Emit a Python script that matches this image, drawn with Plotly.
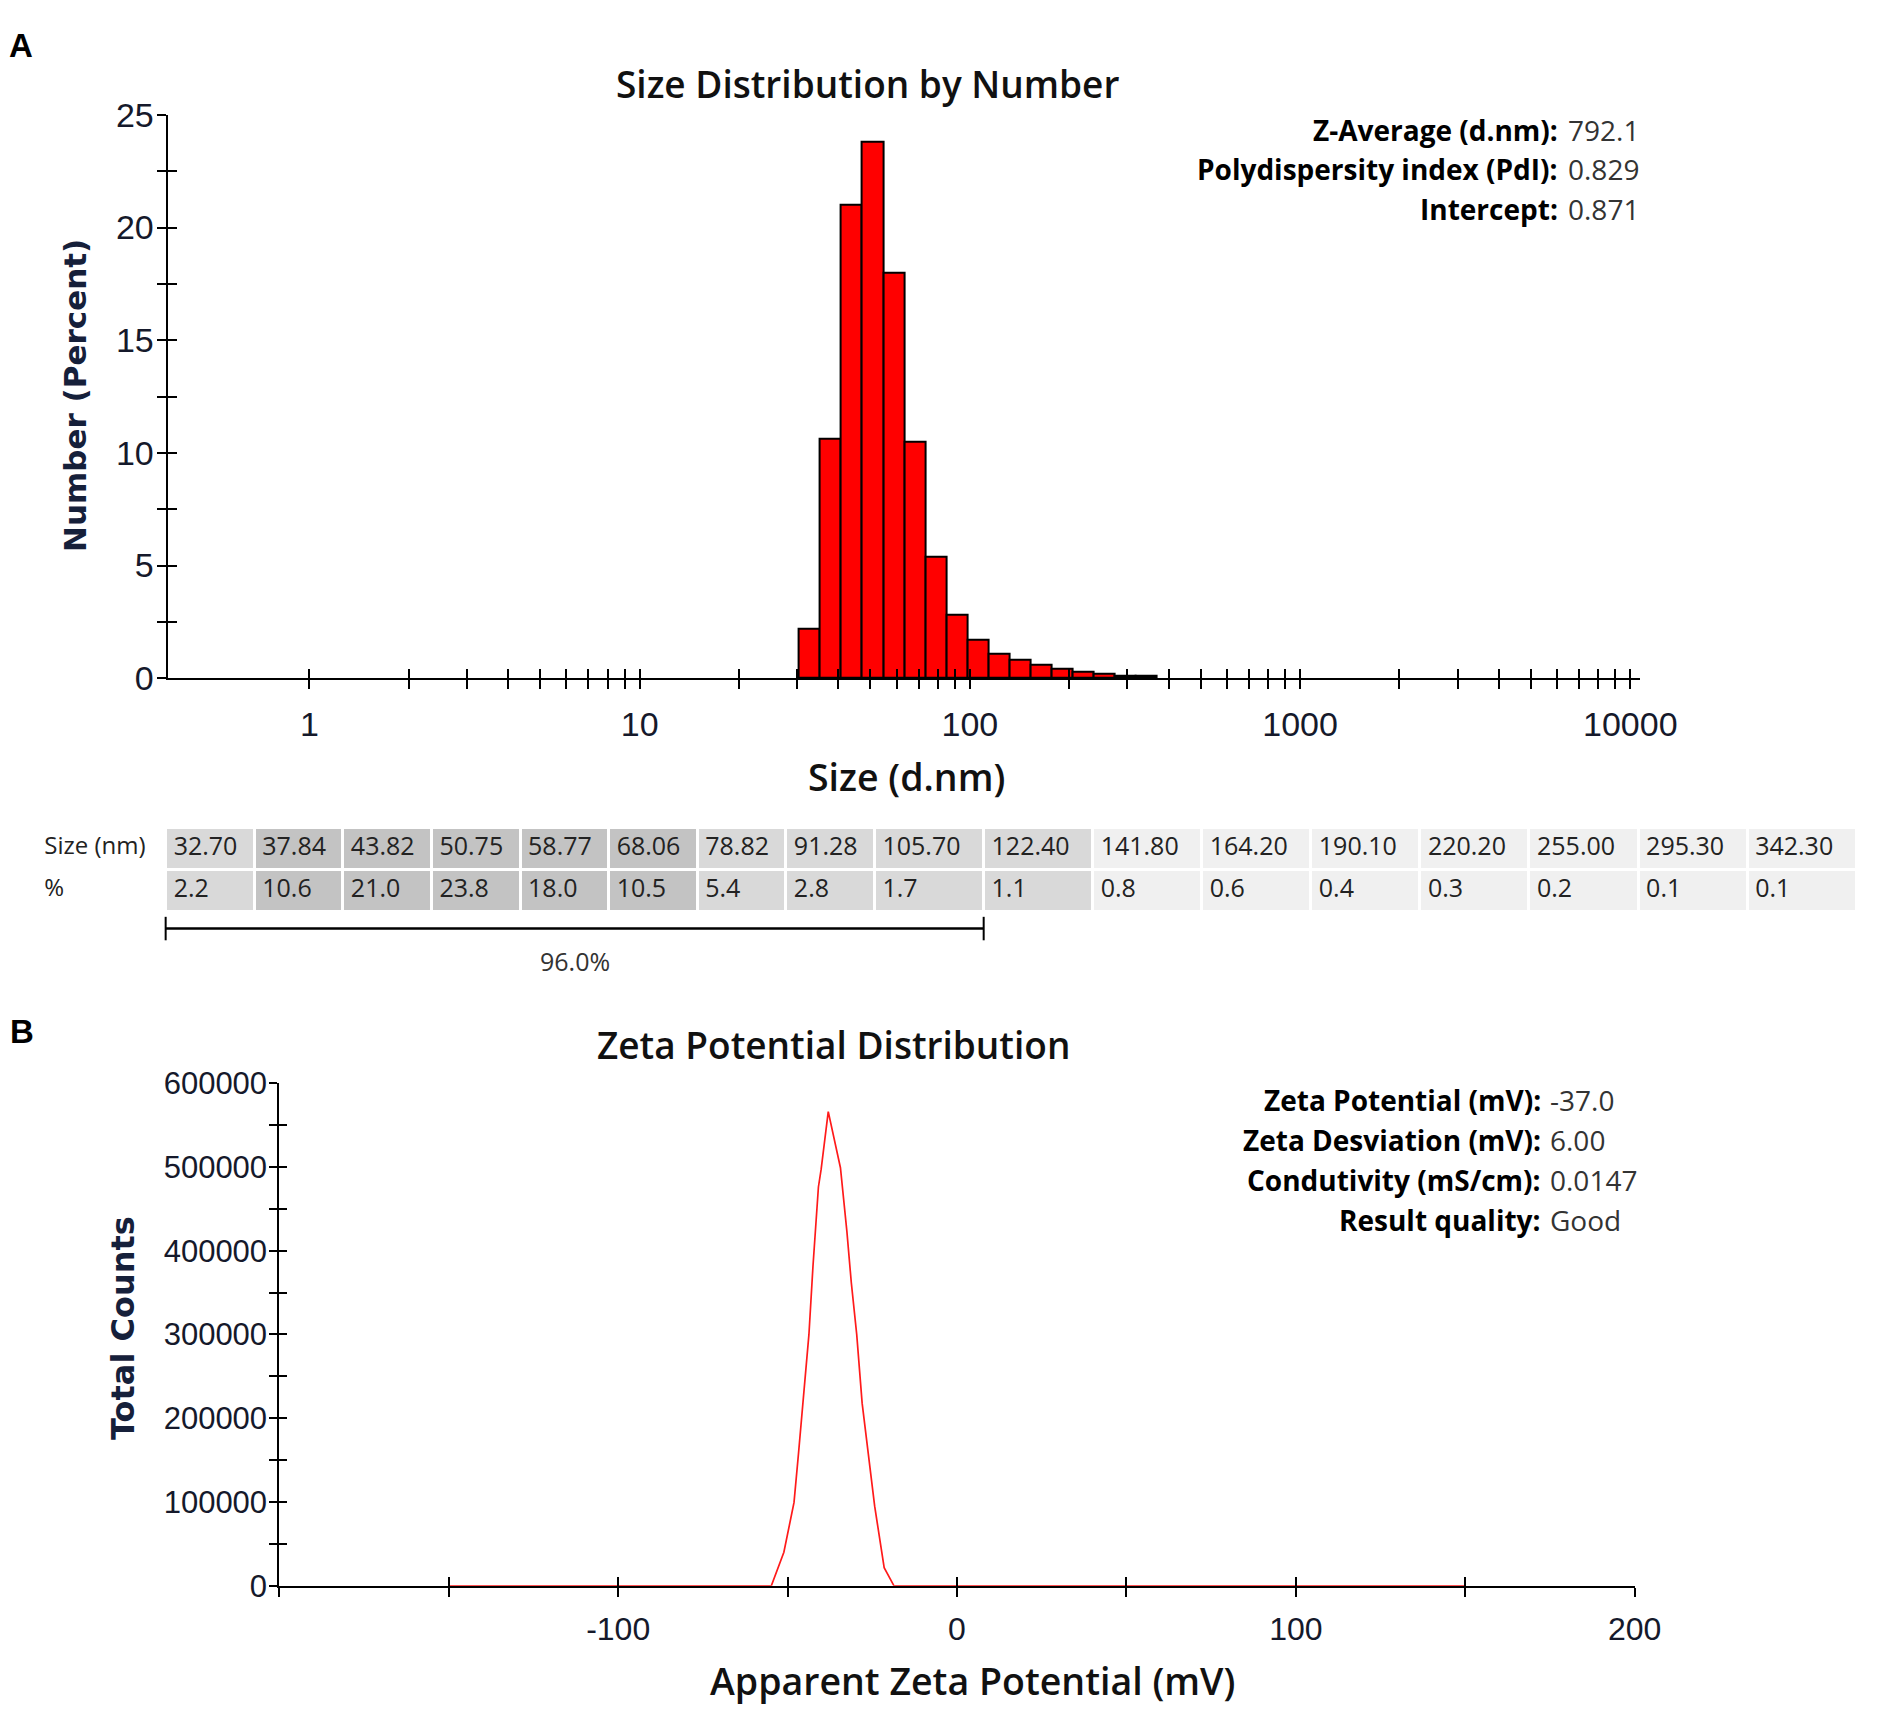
import math
import plotly.graph_objects as go

# ---------------- data ----------------
size_nm = [32.70, 37.84, 43.82, 50.75, 58.77, 68.06, 78.82, 91.28, 105.70,
           122.40, 141.80, 164.20, 190.10, 220.20, 255.00, 295.30, 342.30]
number_pct = [2.2, 10.6, 21.0, 23.8, 18.0, 10.5, 5.4, 2.8, 1.7,
              1.1, 0.8, 0.6, 0.4, 0.3, 0.2, 0.1, 0.1]
peak_bins = 9  # bins bracketed under the table

size_ticks = [1, 10, 100, 1000, 10000]
size_tick_text = ["1", "10", "100", "1000", "10000"]

zeta_mv = [-150, -54.8, -51.1, -48.1, -46.8, -45.4, -43.7, -42.5, -40.9, -40.1,
           -38.0, -34.4, -32.5, -31.2, -29.6, -28.0, -26.2, -24.3, -21.5, -18.6, 150]
zeta_counts = [0, 0, 40000, 99500, 157000, 222000, 300000, 382000, 476000, 497000,
               566000, 499000, 423000, 362000, 300000, 218000, 157000, 95000, 21700, 0, 0]
zeta_ticks = [-100, 0, 100, 200]
zeta_tick_text = ["-100", "0", "100", "200"]

stats_a = [("Z-Average (d.nm):", "792.1"),
           ("Polydispersity index (PdI):", "0.829"),
           ("Intercept:", "0.871")]
stats_b = [("Zeta Potential (mV):", "-37.0"),
           ("Zeta Desviation (mV):", "6.00"),
           ("Condutivity (mS/cm):", "0.0147"),
           ("Result quality:", "Good")]

# ---------------- helpers ----------------
W, H = 1904, 1729
def PX(p):
    return p / W
def PY(p):
    return 1 - p / H

TICK_FONT = dict(family="Liberation Sans, Arial, sans-serif", size=34, color="#15192b")
UI = "Open Sans, Noto Sans, sans-serif"
BLACK = "#000000"

# bin edges (geometric midpoints between adjacent bin centres)
edges = []
for i in range(len(size_nm) + 1):
    if i == 0:
        edges.append(size_nm[0] / math.sqrt(size_nm[1] / size_nm[0]))
    elif i == len(size_nm):
        edges.append(size_nm[-1] * math.sqrt(size_nm[-1] / size_nm[-2]))
    else:
        edges.append(math.sqrt(size_nm[i - 1] * size_nm[i]))
bar_offset = [edges[i] - size_nm[i] for i in range(len(size_nm))]
bar_width = [edges[i + 1] - edges[i] for i in range(len(size_nm))]

minor_log = [k * 10 ** d for d in range(0, 4) for k in range(2, 10)]

fig = go.Figure()

# ---------------- panel A: histogram ----------------
fig.add_trace(go.Bar(
    x=size_nm, y=number_pct, offset=bar_offset, width=bar_width,
    marker=dict(color="#ff0000", line=dict(color=BLACK, width=2)),
    xaxis="x", yaxis="y", showlegend=False, hoverinfo="x+y"))
fig.add_trace(go.Scatter(x=[1], y=[None], xaxis="x3", yaxis="y3",
                         showlegend=False, hoverinfo="skip"))

# ---------------- panel B: zeta ----------------
fig.add_trace(go.Scatter(
    x=zeta_mv, y=zeta_counts, mode="lines",
    line=dict(color="#ff1a1a", width=1.7),
    xaxis="x2", yaxis="y2", showlegend=False))
fig.add_trace(go.Scatter(x=[0], y=[None], xaxis="x4", yaxis="y4",
                         showlegend=False, hoverinfo="skip"))

# ---------------- table ----------------
DARK, MID, LIGHT = "#c3c3c3", "#d9d9d9", "#f0f0f0"
def shade(v):
    return DARK if v >= 10 else (MID if v >= 1 else LIGHT)

size_labels = [f"{s:.2f}" for s in size_nm]
pct_labels = [f"{v:.1f}" for v in number_pct]
col_px = [132] + [90.4 if len(s) <= 5 else 111.3 for s in size_labels]
fills = ["white"] + [shade(v) for v in number_pct]
table_left, table_right = 37, 1894.3
fsizes = [24] + [25] * len(size_nm)
table_font = dict(family=UI, size=fsizes, color="#222222")
fig.add_trace(go.Table(
    domain=dict(x=[PX(table_left), PX(table_right)], y=[PY(920), PY(827)]),
    columnwidth=col_px,
    header=dict(values=["Size (nm)"] + size_labels, fill_color=fills,
                line=dict(color="white", width=3), align="left",
                font=table_font, height=42),
    cells=dict(values=[["%"]] + [[p] for p in pct_labels],
               fill_color=[[f] for f in fills],
               line=dict(color="white", width=3), align="left",
               font=table_font, height=42),
))

# bracket under the peak bins
scale = (table_right - table_left) / sum(col_px)
bx0 = table_left + col_px[0] * scale
bx1 = bx0 + sum(col_px[1:1 + peak_bins]) * scale
shapes = [
    dict(type="line", xref="paper", yref="paper", x0=PX(bx0), x1=PX(bx1),
         y0=PY(930), y1=PY(930), line=dict(color=BLACK, width=2.5)),
    dict(type="line", xref="paper", yref="paper", x0=PX(bx0), x1=PX(bx0),
         y0=PY(918), y1=PY(942), line=dict(color=BLACK, width=2)),
    dict(type="line", xref="paper", yref="paper", x0=PX(bx1), x1=PX(bx1),
         y0=PY(918), y1=PY(942), line=dict(color=BLACK, width=2)),
]

annotations = []
def ann(text, x, y, size, family=UI, color="#111111", weight="normal",
        xanchor="center", angle=0):
    annotations.append(dict(text=text, x=PX(x), y=PY(y), xref="paper", yref="paper",
                            showarrow=False, xanchor=xanchor, yanchor="middle",
                            textangle=angle,
                            font=dict(family=family, size=size, color=color, weight=weight)))

ann(f"{sum(number_pct[:peak_bins]):.1f}%", (bx0 + bx1) / 2, 963, 25, color="#333333")

# panel letters and titles
ann("A", 7, 27, 33, family="Liberation Sans, Arial", color=BLACK, weight="bold", xanchor="left")
ann("B", 8, 1035, 33, family="Liberation Sans, Arial", color=BLACK, weight="bold", xanchor="left")
ann("Size Distribution by Number", 885, 66, 37, color="#111111", weight=600)
ann("Zeta Potential Distribution", 850, 1049, 37, color="#111111", weight=600)
ann("Size (d.nm)", 925, 775, 37.5, color="#111111", weight=600)
ann("Apparent Zeta Potential (mV)", 992, 1699, 37.5, color="#111111", weight=600)
ann("Number (Percent)", 76, 385, 31, family="DejaVu Sans, Verdana", color="#16203a",
    weight="bold", angle=-90)
ann("Total Counts", 125, 1339, 32, family="DejaVu Sans, Verdana", color="#16203a",
    weight="bold", angle=-90)

# stats blocks
for i, (lab, val) in enumerate(stats_a):
    yy = 113 + i * 40.5
    ann(lab, 1592, yy, 28, color=BLACK, weight="bold", xanchor="right")
    ann(val, 1598, yy, 28, color="#333333", xanchor="left")
for i, (lab, val) in enumerate(stats_b):
    yy = 1105 + i * 41
    ann(lab, 1574, yy, 28, color=BLACK, weight="bold", xanchor="right")
    ann(val, 1580, yy, 28, color="#333333", xanchor="left")

# ---------------- axes ----------------
xa_range = [math.log10(0.372), math.log10(10670)]
xa_dom = [PX(171), PX(1673)]
ya_dom = [PY(674), PY(98)]
xb_dom = [PX(285), PX(1668)]
yb_dom = [PY(1602), PY(1088)]

common = dict(showgrid=False, zeroline=False, linecolor=BLACK, linewidth=2,
              tickcolor=BLACK, tickwidth=2)

layout = dict(
    width=W, height=H, margin=dict(l=0, r=0, t=0, b=0),
    paper_bgcolor="white", plot_bgcolor="white", showlegend=False,
    bargap=0,
    xaxis=dict(type="log", range=xa_range, domain=xa_dom, anchor="y",
               showline=True, ticks="outside", ticklen=9, ticklabelstandoff=6,
               tickmode="array", tickvals=size_ticks, ticktext=size_tick_text,
               tickfont=TICK_FONT, layer="below traces",
               minor=dict(tickmode="array", tickvals=minor_log, ticks="outside",
                          ticklen=9, tickwidth=2, tickcolor=BLACK), **common),
    xaxis3=dict(type="log", range=xa_range, overlaying="x", anchor="y3",
                showline=False, ticks="inside", ticklen=9, showticklabels=False,
                tickmode="array", tickvals=size_ticks,
                minor=dict(tickmode="array", tickvals=minor_log, ticks="inside",
                           ticklen=9, tickwidth=2, tickcolor=BLACK), **common),
    yaxis=dict(range=[0, 25], domain=ya_dom, anchor="x", showline=True,
               ticks="outside", ticklen=9, dtick=5, tick0=0, tickfont=TICK_FONT,
               ticklabelstandoff=-4, layer="below traces",
               minor=dict(dtick=2.5, tick0=0, ticks="outside", ticklen=9,
                          tickwidth=2, tickcolor=BLACK), **common),
    yaxis3=dict(range=[0, 25], overlaying="y", anchor="x3", showline=False,
                ticks="inside", ticklen=9, dtick=5, tick0=0, showticklabels=False,
                minor=dict(dtick=2.5, tick0=0, ticks="inside", ticklen=9,
                           tickwidth=2, tickcolor=BLACK), **common),
    xaxis2=dict(range=[-200, 200], domain=xb_dom, anchor="y2", showline=True,
                ticks="outside", ticklen=9, tickmode="array", tickvals=zeta_ticks,
                ticktext=zeta_tick_text, ticklabelstandoff=5,
                tickfont=dict(TICK_FONT, size=32), layer="below traces",
                minor=dict(dtick=50, tick0=0, ticks="outside", ticklen=9,
                           tickwidth=2, tickcolor=BLACK), **common),
    xaxis4=dict(range=[-200, 200], overlaying="x2", anchor="y4", showline=False,
                ticks="inside", ticklen=9, tickmode="array", tickvals=zeta_ticks,
                showticklabels=False,
                minor=dict(dtick=50, tick0=0, ticks="inside", ticklen=9,
                           tickwidth=2, tickcolor=BLACK), **common),
    yaxis2=dict(range=[0, 600000], domain=yb_dom, anchor="x2", showline=True,
                ticks="outside", ticklen=8, dtick=100000, tick0=0, tickformat="d",
                ticklabelstandoff=-4,
                tickfont=dict(TICK_FONT, size=31), layer="below traces",
                minor=dict(dtick=50000, tick0=0, ticks="outside", ticklen=8,
                           tickwidth=2, tickcolor=BLACK), **common),
    yaxis4=dict(range=[0, 600000], overlaying="y2", anchor="x4", showline=False,
                ticks="inside", ticklen=8, dtick=100000, tick0=0, showticklabels=False,
                minor=dict(dtick=50000, tick0=0, ticks="inside", ticklen=8,
                           tickwidth=2, tickcolor=BLACK), **common),
    shapes=shapes, annotations=annotations,
)
fig.update_layout(**layout)
fig.write_html("out.html", config={"displayModeBar": False},
               post_script="document.body.style.margin='0';")
